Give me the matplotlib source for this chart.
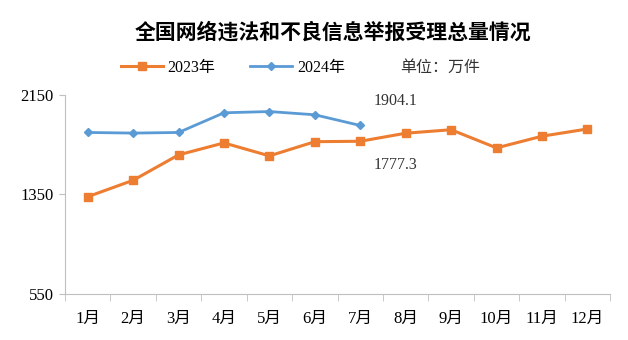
import matplotlib.pyplot as plt
import numpy as np

# data (10k items)
months = ['1月', '2月', '3月', '4月', '5月', '6月', '7月', '8月', '9月', '10月', '11月', '12月']
y2023 = [1332, 1464, 1668, 1764, 1660, 1774, 1777.3, 1842, 1870, 1724, 1818, 1876]
y2024 = [1848, 1843, 1848, 2006, 2016, 1990, 1904.1]

serif = ['Liberation Serif', 'Noto Sans CJK SC']
plt.rcParams['font.family'] = serif

orange = '#ED7D31'
blue = '#5B9BD5'

fig = plt.figure(figsize=(6.28, 3.40), dpi=100)
ax = fig.add_axes([0.1035, 0.135, 0.868, 0.586])

x = np.arange(len(months))
ax.plot(x, y2023, color=orange, lw=2.2, marker='s', ms=6, label='2023年')
ax.plot(x[:len(y2024)], y2024, color=blue, lw=2, marker='D', ms=4.5, label='2024年')

ax.set_xlim(-0.5, 11.5)
ax.set_ylim(550, 2150)
ax.set_yticks([550, 1350, 2150])
ax.set_xticks(x)
ax.set_xticklabels(months)
ax.set_xticks(np.arange(-0.5, 12, 1), minor=True)
ax.tick_params(axis='x', which='major', length=0, pad=12, labelsize=12)
ax.tick_params(axis='x', which='minor', length=5, color='#BFBFBF')
ax.tick_params(axis='y', length=4, color='#BFBFBF', labelsize=12, pad=4)

for s in ['top', 'right']:
    ax.spines[s].set_visible(False)
for s in ['left', 'bottom']:
    ax.spines[s].set_color('#BFBFBF')

# labels for the latest month
ax.text(6.3, y2024[6] + 200, '1904.1', fontsize=11.5, ha='left', va='center', color='#333333')
ax.text(6.3, y2023[6] - 190, '1777.3', fontsize=11.5, ha='left', va='center', color='#333333')

fig.text(0.53, 0.905, '全国网络违法和不良信息举报受理总量情况', ha='center', va='center',
         fontsize=15, fontweight='bold', family=['Noto Sans CJK SC'])

leg = fig.legend(loc='center left', bbox_to_anchor=(0.17, 0.80), ncol=2, frameon=False,
                 fontsize=11.5, handlelength=2.6, columnspacing=2.2, handletextpad=0.3)
fig.text(0.637, 0.80, '单位：万件', ha='left', va='center', fontsize=11.5, color='#333333')

plt.savefig('out.png', dpi=100)
